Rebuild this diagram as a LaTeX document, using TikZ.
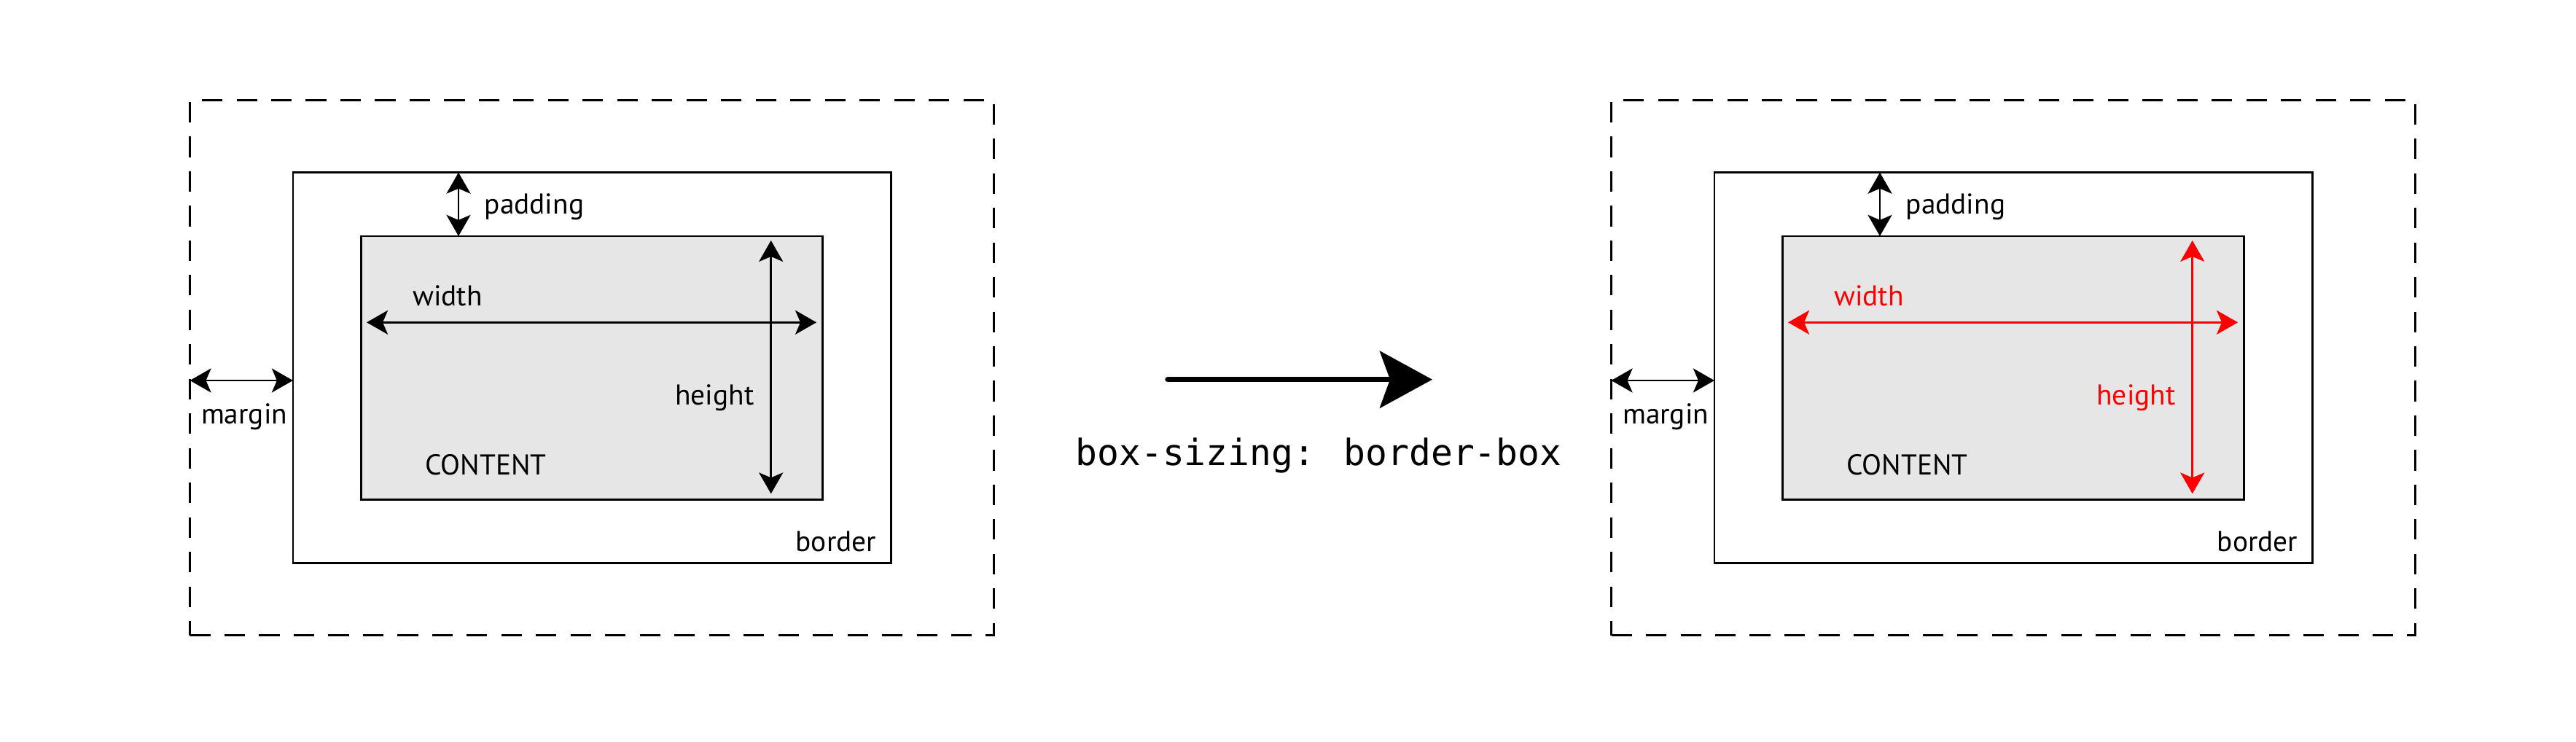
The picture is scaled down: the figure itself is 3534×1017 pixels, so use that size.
\documentclass[tikz,border=0pt]{standalone}
\usepackage{fontspec}
\setmainfont{PT Sans}
\newfontfamily\codefont{DejaVu Sans Mono}
\usetikzlibrary{arrows.meta}

\begin{document}
\begin{tikzpicture}[x=0.01cm, y=-0.01cm,
  box/.style={draw, line width=0.8pt, inner sep=0pt, outer sep=0pt},
  marginbox/.style={box, dash pattern=on 8pt off 5.5pt, minimum width=11.023cm, minimum height=7.343cm},
  borderbox/.style={box, minimum width=8.197cm, minimum height=5.354cm},
  contentbox/.style={box, fill=boxgrey, minimum width=6.328cm, minimum height=3.61cm},
  dim/.style={line width=0.8pt, {Stealth[length=0.29cm, width=0.33cm, inset=0.07cm]}-{Stealth[length=0.29cm, width=0.33cm, inset=0.07cm]}},
  lbl/.style={anchor=base west, inner sep=0pt, font=\fontsize{11.2}{13}\selectfont}]
\definecolor{boxgrey}{HTML}{E6E6E6}
\definecolor{changed}{HTML}{FF0000}
\useasboundingbox (0,0) rectangle (3534,1017);
\node[marginbox] (lmargin) at (812,504.5) {};
\node[borderbox] (lborder) at (812,504.5) {};
\node[contentbox] (lcontent) at (812,504.5) {};
\coordinate (lpad) at (629,0);
\coordinate (lwid) at (0,442.3);
\coordinate (lhei) at (1057.7,0);
\coordinate (lmar) at (0,522);
\draw[dim] (lpad |- lborder.north) -- (lpad |- lcontent.north);
\draw[dim] (lmargin.west |- lmar) -- (lborder.west |- lmar);
\draw[dim, shorten <=0.076cm, shorten >=0.085cm] (lcontent.west |- lwid) -- (lcontent.east |- lwid);
\draw[dim, shorten <=0.06cm, shorten >=0.077cm] (lhei |- lcontent.north) -- (lhei |- lcontent.south);
\node[lbl] (lpadtxt) at (664,293.5) {padding};
\node[lbl] (lwidtxt) at (565.5,419.3) {width};
\node[lbl] (lheitxt) at (925.7,555.4) {height};
\node[lbl] (lmartxt) at (275.3,581.2) {margin};
\node[lbl] (lcontxt) at (582.6,651) {CONTENT};
\node[lbl] (lbortxt) at (1091,756.6) {border};
\coordinate (mfrom) at (1602,520.7);
\coordinate (mto) at (1965,520.7);
\draw[line width=2.1pt, line cap=round, -{Stealth[length=0.72cm, width=0.78cm, inset=0.14cm]}] (mfrom) -- (mto);
\node[anchor=base, inner sep=0pt, font=\codefont\fontsize{14.1}{17}\selectfont] (sizing) at (1809,638) {box-sizing: border-box};
\node[marginbox] (rmargin) at (2762,504.5) {};
\node[borderbox] (rborder) at (2762,504.5) {};
\node[contentbox] (rcontent) at (2762,504.5) {};
\coordinate (rpad) at (2579,0);
\coordinate (rwid) at (0,442.3);
\coordinate (rhei) at (3007.7,0);
\coordinate (rmar) at (0,522);
\draw[dim] (rpad |- rborder.north) -- (rpad |- rcontent.north);
\draw[dim] (rmargin.west |- rmar) -- (rborder.west |- rmar);
\draw[dim, changed, shorten <=0.076cm, shorten >=0.085cm] (rcontent.west |- rwid) -- (rcontent.east |- rwid);
\draw[dim, changed, shorten <=0.06cm, shorten >=0.077cm] (rhei |- rcontent.north) -- (rhei |- rcontent.south);
\node[lbl] (rpadtxt) at (2614,293.5) {padding};
\node[lbl, text=changed] (rwidtxt) at (2515.5,419.3) {width};
\node[lbl, text=changed] (rheitxt) at (2875.7,555.4) {height};
\node[lbl] (rmartxt) at (2225.3,581.2) {margin};
\node[lbl] (rcontxt) at (2532.6,651) {CONTENT};
\node[lbl] (rbortxt) at (3041,756.6) {border};
\end{tikzpicture}
\end{document}
